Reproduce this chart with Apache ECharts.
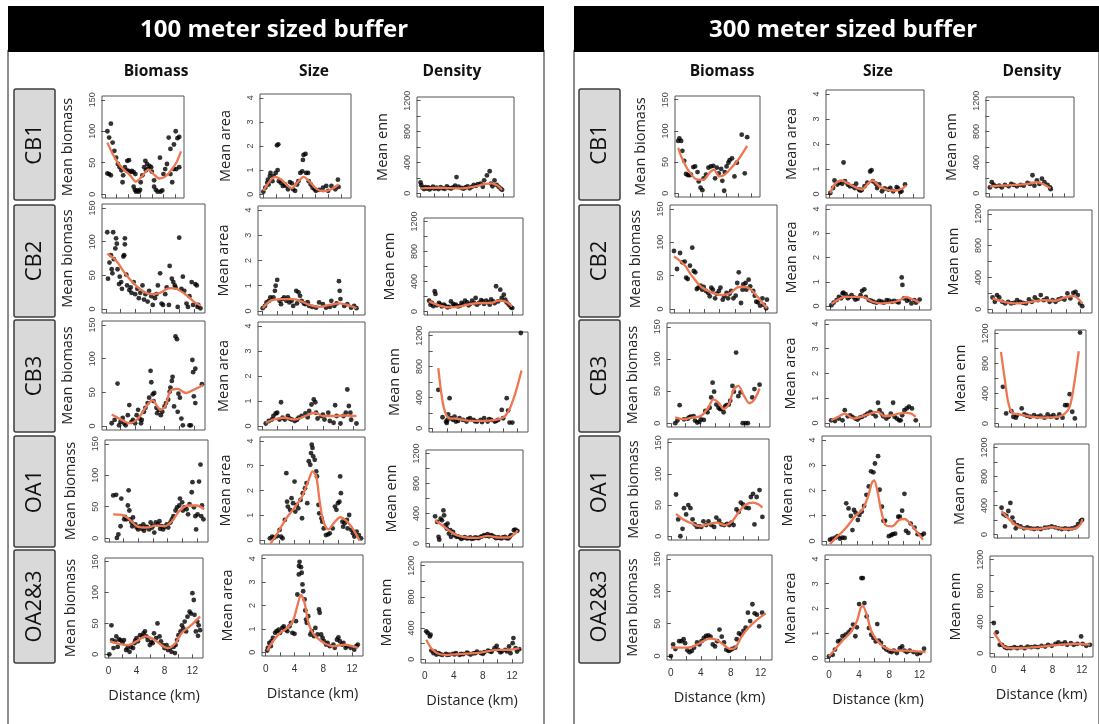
<!DOCTYPE html>
<html>
<head>
<meta charset="utf-8">
<script src="https://cdn.jsdelivr.net/npm/echarts@6/dist/echarts.min.js"></script>
<style>
html,body{margin:0;padding:0;background:#fff}
#chart{width:1099px;height:724px}
</style>
</head>
<body>
<div id="chart"></div>
<script>
// ---- labels & ticks ----
const sites = ['CB1', 'CB2', 'CB3', 'OA1', 'OA2&3'];
const measures = ['Biomass', 'Size', 'Density'];
const yTitles = ['Mean biomass', 'Mean area', 'Mean enn'];
const bufferTitles = ['100 meter sized buffer', '300 meter sized buffer'];
const distTicks = [0, 2, 4, 6, 8, 10, 12];
const distLabels = [0, 4, 8, 12];
const bioTicks = [0, 50, 100, 150];
const areaTicks = [0, 1, 2, 3, 4];
const ennTicks = [0, 200, 400, 600, 800, 1000, 1200];
const ennLabels = [0, 400, 800, 1200];

// ---- 100 m buffer: points [distance km, value] and smoothed fits ----
const bio100CB1 = [[0.4,100],[1.0,112],[0.7,90],[1.3,82],[0.7,32],[0.4,33],[1.0,30],[1.6,69],[1.9,58],[2.2,48],[2.5,43],[2.8,38],[3.1,30],[3.0,19],[3.4,43],[3.7,38],[4.0,37],[4.3,35],[4.6,37],[3.8,53],[4.1,54],[4.9,35],[5.2,32],[4.9,12],[5.1,7],[5.5,6],[5.8,4],[6.0,7],[5.3,4],[6.1,19],[6.4,30],[6.7,43],[6.9,53],[7.2,48],[7.0,38],[7.3,40],[7.6,45],[7.9,43],[8.0,36],[8.4,22],[8.4,12],[8.7,7],[9.0,4],[9.5,4],[9.8,6],[9.4,58],[10.0,32],[10.3,40],[10.6,48],[10.9,90],[11.2,72],[11.2,32],[11.5,19],[11.8,79],[12.1,100],[12.4,89],[12.7,91],[11.8,40],[12.2,40],[12.7,43]];
const bio100CB1Fit = [[0.4,82],[1.2,66],[2.2,50],[3.2,39],[4.3,30],[5.3,20],[6.3,28],[7.4,39],[8.3,32],[9.3,25],[10.3,28],[11.3,38],[12.2,50],[13.0,68]];
const area100CB1 = [[0.0,0.1],[0.3,0.27],[0.6,0.47],[0.7,0.6],[1.0,0.75],[0.8,0.4],[1.1,0.88],[1.4,0.54],[1.6,0.75],[1.9,0.88],[2.2,1.0],[2.1,2.03],[2.3,2.07],[2.4,0.54],[2.7,0.47],[3.0,0.34],[3.3,0.4],[3.5,0.34],[3.8,0.2],[4.1,0.5],[4.4,0.45],[4.6,0.2],[4.9,0.14],[5.2,0.4],[5.4,0.54],[5.7,0.88],[6.0,0.95],[6.1,1.42],[6.2,1.63],[6.5,1.67],[6.6,0.88],[6.9,0.88],[7.0,0.54],[7.3,0.4],[7.6,0.27],[7.9,0.2],[8.1,0.14],[8.6,0.18],[9.2,0.27],[9.7,0.34],[10.0,0.14],[10.5,0.34],[11.1,0.2],[11.5,0.6],[11.6,0.3]];
const area100CB1Fit = [[0,0.14],[1.0,0.55],[1.8,0.72],[2.8,0.6],[3.6,0.38],[4.4,0.25],[5.3,0.5],[6.2,0.72],[7.2,0.5],[8.2,0.22],[9.2,0.12],[10.3,0.18],[11.6,0.4]];
const enn100CB1 = [[0.0,140],[0.1,105],[0.3,70],[0.5,55],[0.7,80],[0.9,62],[1.1,75],[1.3,50],[1.5,68],[1.8,85],[2.0,60],[2.3,72],[2.6,55],[2.9,80],[3.2,65],[3.5,58],[3.8,90],[4.1,70],[4.4,62],[4.7,78],[5.0,100],[5.2,210],[5.5,85],[5.9,70],[6.2,60],[6.5,75],[6.8,90],[7.1,65],[7.4,82],[7.7,110],[8.0,95],[8.3,120],[8.7,126],[9.0,85],[9.2,168],[9.6,232],[10.0,286],[10.2,126],[10.4,90],[10.7,168],[11.0,110],[11.3,84],[11.6,60],[11.8,45]];
const enn100CB1Fit = [[0,63],[1.3,68],[2.6,72],[3.9,68],[5.2,65],[6.4,68],[7.4,80],[8.4,100],[9.4,122],[10.2,128],[10.9,110],[11.4,80],[11.8,42]];

const bio100CB2 = [[0.2,114],[1.0,114],[0.3,45],[0.5,69],[0.7,80],[0.8,59],[0.9,53],[1.1,74],[1.3,90],[1.4,105],[1.5,97],[1.6,59],[1.8,37],[1.9,48],[2.1,40],[2.2,30],[2.5,80],[2.6,96],[2.6,105],[2.4,78],[2.8,51],[2.9,35],[3.2,28],[3.4,32],[3.5,24],[3.8,40],[4.0,22],[4.3,30],[4.5,16],[4.7,24],[5.0,35],[5.2,14],[5.4,22],[5.7,11],[5.9,27],[6.2,19],[6.4,6],[6.7,16],[6.9,22],[7.1,35],[7.4,53],[7.6,8],[7.8,6],[8.1,22],[8.3,32],[8.6,6],[8.7,64],[9.0,45],[9.2,40],[9.4,35],[9.5,32],[9.8,3],[10.0,106],[10.3,30],[10.5,48],[10.7,27],[11.0,8],[11.2,3],[11.4,19],[11.7,40],[11.9,6],[12.2,37],[12.4,35],[12.5,3],[12.6,6],[12.9,1]];
const bio100CB2Fit = [[0.2,82],[1.4,72],[2.6,53],[3.8,38],[5.0,27],[6.2,22],[7.4,24],[8.7,31],[9.6,30],[10.8,22],[12.0,11],[12.9,5]];
const area100CB2 = [[0.1,0.11],[0.4,0.2],[0.6,0.34],[0.9,0.4],[1.1,0.54],[1.5,0.54],[1.8,1.0],[2.0,1.23],[1.7,0.8],[2.3,0.4],[2.5,0.27],[2.7,0.47],[2.9,0.54],[3.2,0.4],[3.4,0.54],[3.6,0.34],[3.9,0.4],[4.1,0.2],[4.5,0.8],[4.8,0.74],[5.0,0.6],[4.6,0.3],[5.2,0.4],[5.7,0.27],[6.2,0.2],[6.6,0.16],[7.1,0.13],[7.5,0.34],[8.0,0.27],[8.4,0.13],[8.9,0.16],[9.1,0.4],[10.1,1.18],[10.2,0.8],[10.3,0.47],[10.8,0.2],[11.2,0.27],[11.7,0.13],[12.1,0.2],[12.4,0.11],[9.5,0.2],[9.8,0.3],[5.5,0.3],[6.0,0.35]];
const area100CB2Fit = [[0.1,0.11],[1.1,0.4],[2.5,0.47],[3.9,0.47],[4.8,0.43],[6.2,0.24],[7.5,0.16],[8.9,0.24],[10.1,0.3],[11.2,0.24],[12.4,0.11]];
const enn100CB2 = [[0.2,143],[0.6,112],[1.0,269],[1.1,233],[1.3,81],[1.6,112],[2.0,67],[2.3,90],[2.8,54],[3.3,134],[3.8,81],[4.3,67],[4.8,112],[5.3,143],[5.8,81],[6.3,143],[6.8,179],[7.3,112],[7.8,134],[8.3,143],[8.8,90],[9.3,134],[9.7,336],[10.0,134],[10.3,291],[10.5,179],[10.8,224],[11.0,157],[11.2,120],[11.5,90],[11.8,54],[12.0,45],[0.4,90],[0.8,70],[1.8,95],[2.5,75],[3.0,60],[3.6,100],[4.0,90],[4.6,75],[5.0,95],[5.6,120],[6.0,100],[6.6,110],[7.0,90],[7.6,150],[8.0,100],[8.6,120],[9.0,160],[9.5,110]];
const enn100CB2Fit = [[0.2,134],[1.6,81],[3.1,54],[4.6,67],[6.1,99],[7.6,112],[9.0,112],[10.0,143],[11.0,134],[12.0,67]];

const bio100CB3 = [[0.8,4],[1.2,9],[1.6,63],[1.8,1],[2.0,6],[2.3,12],[2.5,4],[2.7,1],[3.0,16],[3.2,31],[3.5,6],[3.7,9],[4.0,4],[4.2,16],[4.4,24],[4.6,11],[4.8,4],[4.9,9],[5.2,21],[5.4,27],[5.7,34],[5.9,42],[6.1,82],[6.2,65],[6.4,47],[6.6,49],[6.5,37],[6.9,27],[7.0,19],[7.2,24],[7.5,16],[7.7,21],[8.0,29],[8.2,34],[8.5,39],[8.7,51],[8.8,57],[9.0,67],[9.1,73],[9.3,29],[9.5,133],[9.7,129],[9.8,21],[9.9,48],[10.1,42],[10.3,11],[10.5,1],[11.4,1],[11.6,1],[11.8,98],[11.9,80],[12.2,85],[12.0,44],[12.2,34],[13.1,62]];
const bio100CB3Fit = [[0.8,17],[2.0,10],[3.2,4],[4.4,11],[5.7,32],[6.4,38],[7.4,24],[8.1,29],[8.8,52],[9.8,55],[10.9,49],[12.2,55],[13.3,61]];
const area100CB3 = [[0.5,0.1],[0.9,0.2],[1.3,0.26],[1.5,0.4],[1.8,0.5],[2.0,0.53],[2.5,0.95],[2.3,0.26],[2.7,0.33],[3.0,0.26],[3.4,0.4],[3.9,0.26],[4.3,0.2],[4.8,0.33],[5.2,0.4],[5.7,0.5],[6.2,0.6],[6.5,0.86],[6.8,1.06],[7.0,0.95],[7.1,0.53],[7.3,0.3],[7.8,0.4],[8.2,0.26],[8.7,0.53],[8.9,0.2],[9.4,0.13],[9.6,0.83],[9.8,0.4],[10.3,0.1],[10.7,0.4],[11.0,0.53],[11.2,1.46],[11.4,0.8],[11.6,0.53],[11.7,0.25],[12.4,0.1],[3.6,0.3],[4.6,0.25],[6.0,0.35],[8.0,0.45]];
const area100CB3Fit = [[0.5,0.13],[1.5,0.26],[2.9,0.33],[4.3,0.26],[5.7,0.4],[6.9,0.53],[8.0,0.4],[9.4,0.4],[10.8,0.42],[12.4,0.4]];
const enn100CB3 = [[0.8,498],[1.4,143],[1.9,87],[2.1,108],[2.2,180],[2.4,390],[2.6,130],[2.9,108],[3.1,152],[3.3,87],[3.8,130],[4.3,108],[4.8,87],[5.3,130],[5.8,108],[6.3,87],[6.8,108],[7.3,130],[7.8,87],[8.3,108],[8.8,87],[9.3,108],[9.8,238],[10.0,130],[10.5,390],[10.7,230],[10.9,74],[11.3,74],[12.5,1235],[2.0,70],[3.6,95],[5.0,120],[6.0,90],[7.0,80],[8.0,120],[9.0,95]];
const enn100CB3Fit = [[0.8,780],[1.2,470],[1.6,260],[2.0,160],[2.5,125],[3.0,128],[4.0,115],[5.0,100],[6.0,95],[7.0,95],[8.0,100],[9.0,110],[10.0,140],[10.5,185],[11.0,270],[11.5,390],[12.0,540],[12.6,750]];

const bio100OA1 = [[0.6,68],[1.0,69],[1.1,0.5],[1.3,6],[1.6,19],[1.7,63],[2.1,30],[2.2,34],[2.4,30],[2.7,76],[2.6,52],[2.8,44],[2.9,30],[3.1,25],[3.2,19],[3.3,33],[3.6,22],[3.8,17],[4.0,14],[4.3,19],[4.5,15],[4.7,22],[5.0,17],[5.2,18],[5.5,14],[5.7,25],[5.9,17],[6.2,9],[6.4,25],[6.7,22],[6.9,27],[7.2,19],[7.4,14],[7.6,18],[7.9,22],[8.1,17],[8.4,25],[8.6,30],[8.8,35],[9.1,44],[9.3,49],[9.6,52],[9.7,63],[10.0,57],[10.1,44],[10.3,49],[10.6,46],[10.8,38],[11.0,54],[11.3,73],[11.4,89],[11.6,49],[11.8,35],[11.9,14],[12.1,38],[12.3,90],[12.5,117],[12.6,35],[12.7,52],[12.9,30],[4.8,12],[6.0,20],[7.0,15]];
const bio100OA1Fit = [[0.6,38],[1.8,37],[2.8,30],[4.0,18],[5.2,17],[6.4,20],[7.6,19],[8.6,27],[9.6,43],[10.8,52],[12.0,52],[13.0,46]];
const area100OA1 = [[0.8,0.07],[1.1,0.14],[1.4,0.1],[1.8,0.16],[2.3,0.14],[2.5,0.07],[2.1,0.41],[2.8,0.81],[3.0,2.7],[3.1,1.55],[3.2,1.35],[3.5,1.22],[3.7,1.69],[3.9,1.49],[4.1,2.36],[4.2,1.15],[4.4,1.42],[4.6,1.28],[4.9,1.62],[5.1,0.88],[5.2,1.89],[5.5,2.09],[5.7,2.3],[5.8,1.49],[6.0,3.18],[6.2,3.04],[6.3,3.51],[6.4,3.85],[6.5,3.72],[6.6,3.38],[6.8,3.24],[7.0,2.77],[7.1,2.57],[7.3,1.42],[7.4,1.08],[7.7,0.88],[7.8,0.74],[8.0,0.47],[8.3,0.2],[8.6,0.23],[8.8,0.27],[9.2,0.47],[9.5,1.35],[9.7,1.22],[9.9,1.49],[10.1,1.55],[10.2,2.57],[10.3,1.89],[10.5,0.74],[10.6,0.54],[10.8,0.68],[11.1,0.81],[11.2,0.47],[11.4,1.01],[11.7,0.41],[11.9,0.27],[12.1,0.14],[12.4,0.34],[12.7,0.2],[13.0,0.07]];
const area100OA1Fit = [[0.9,-0.14],[1.8,0.27],[3.0,0.88],[4.2,1.35],[5.1,1.76],[6.0,2.43],[6.5,2.77],[7.0,2.57],[7.4,1.69],[7.9,0.81],[8.6,0.43],[9.5,0.74],[10.2,0.92],[10.9,0.81],[11.7,0.54],[12.4,0.2],[12.8,-0.03]];
const enn100OA1 = [[0.8,362],[1.1,287],[1.3,88],[1.4,50],[1.6,331],[1.8,309],[2.0,441],[2.1,375],[2.3,243],[2.5,199],[2.6,265],[2.8,132],[3.0,176],[3.1,88],[3.4,154],[3.6,110],[3.9,88],[4.4,79],[4.9,75],[5.4,66],[5.9,79],[6.4,66],[6.9,75],[7.4,88],[7.9,110],[8.4,123],[8.9,110],[9.4,88],[9.9,79],[10.4,66],[10.9,88],[11.4,66],[11.8,110],[12.2,176],[12.4,185],[12.7,168],[4.1,95],[4.6,60],[5.1,85],[5.6,70],[6.1,60],[6.6,80],[7.1,70],[7.6,95],[8.1,100],[8.6,95],[9.1,100],[9.6,70],[10.1,75],[10.6,80],[11.1,70],[11.6,90]];
const enn100OA1Fit = [[0.8,309],[1.8,243],[2.9,168],[3.9,110],[5.4,79],[6.9,75],[8.4,101],[9.9,79],[11.4,79],[12.4,132],[12.7,176]];

const bio100OA23 = [[0.1,0],[0.4,47],[0.5,23],[0.7,10],[0.9,21],[1.1,29],[1.3,12],[1.5,24],[1.7,23],[2.0,19],[2.2,23],[2.5,7],[2.7,10],[3.0,4],[3.2,12],[3.5,10],[3.7,18],[4.0,26],[4.2,21],[4.5,31],[4.8,29],[5.0,34],[5.2,37],[5.4,29],[5.6,23],[5.9,15],[6.3,18],[6.5,34],[6.8,26],[7.0,50],[7.3,29],[7.5,21],[7.8,15],[8.0,10],[8.3,15],[8.5,7],[8.8,10],[9.0,4],[9.3,12],[9.5,2],[9.8,23],[10.0,31],[10.3,37],[10.5,47],[10.7,42],[10.9,53],[11.1,37],[11.3,61],[11.6,69],[11.8,66],[12.0,99],[12.2,88],[12.3,64],[12.5,37],[12.7,53],[12.9,47],[13.1,39],[12.8,30],[3.8,22],[6.1,20],[9.6,15]];
const bio100OA23Fit = [[0.2,21],[1.5,17],[2.8,15],[4.0,21],[5.3,29],[6.5,24],[7.8,13],[8.5,10],[9.5,17],[10.5,35],[11.8,47],[13.1,61]];
const area100OA23 = [[0.2,0.07],[0.3,0.19],[0.5,0.4],[0.7,0.26],[0.8,0.47],[1.0,0.61],[1.3,0.83],[1.5,0.9],[1.8,0.97],[2.0,0.83],[2.3,1.04],[2.5,1.11],[2.8,0.97],[3.0,0.9],[3.3,1.11],[3.5,1.26],[3.7,0.83],[4.0,0.79],[4.2,1.33],[4.4,2.47],[4.6,3.33],[4.62,3.69],[4.7,3.87],[4.9,3.64],[5.0,3.4],[5.1,2.9],[5.2,2.61],[5.4,2.26],[5.5,1.79],[5.6,1.4],[5.7,1.26],[5.9,1.54],[6.2,0.76],[6.4,0.9],[6.7,0.69],[6.9,1.04],[7.2,0.76],[7.4,1.83],[7.5,1.69],[7.7,0.76],[7.9,0.61],[8.1,0.47],[8.4,0.33],[8.6,0.4],[8.9,0.26],[9.4,0.33],[9.6,0.19],[9.9,0.54],[10.1,0.64],[10.3,0.47],[10.6,0.33],[10.8,0.4],[11.1,0.19],[11.3,0.26],[11.8,0.19],[12.3,0.11],[12.6,0.26],[12.8,0.33]];
const area100OA23Fit = [[0.2,0.07],[1.0,0.47],[2.0,0.83],[3.0,1.04],[3.8,1.35],[4.4,2.0],[4.9,2.45],[5.4,2.1],[5.9,1.3],[6.4,0.9],[6.9,0.69],[8.1,0.4],[9.6,0.26],[10.8,0.33],[12.8,0.19]];
const enn100OA23 = [[0.2,358],[0.4,337],[0.7,293],[0.8,315],[0.9,112],[1.2,78],[1.4,99],[1.9,78],[2.4,56],[2.9,69],[3.4,60],[3.9,70],[4.3,78],[4.8,55],[5.3,65],[5.8,86],[6.3,60],[6.7,75],[7.2,99],[7.7,80],[8.2,90],[8.7,112],[9.2,95],[9.6,142],[9.9,173],[10.1,121],[10.6,99],[11.1,121],[11.6,164],[11.8,78],[12.1,207],[12.2,272],[12.5,142],[12.7,99],[13.0,129],[1.6,60],[2.1,65],[3.1,55],[4.1,62],[5.0,70],[6.0,75],[7.0,80],[8.0,70],[9.0,100],[10.4,90],[11.3,100]];
const enn100OA23Fit = [[0.2,250],[0.9,142],[1.7,78],[2.9,56],[5.3,69],[7.7,86],[10.1,121],[11.6,121],[13.0,142]];

// ---- 300 m buffer ----
const bio300CB1 = [[0.0,84],[0.2,88],[0.5,84],[0.7,68],[1.0,52],[1.3,31],[1.6,29],[1.9,29],[2.1,30],[2.5,42],[2.8,43],[3.2,34],[3.4,19],[3.7,9],[4.0,5],[4.2,24],[4.6,30],[5.0,41],[5.4,43],[5.8,44],[6.1,24],[6.4,41],[6.7,32],[7.1,39],[7.3,20],[7.6,4],[7.7,34],[8.0,43],[8.3,49],[8.5,53],[8.9,56],[9.3,27],[9.7,49],[10.5,94],[11.0,32],[11.4,90]];
const bio300CB1Fit = [[0,73],[0.6,57],[1.8,35],[3.2,22],[4.2,22],[5.2,33],[5.9,38],[6.8,27],[7.7,30],[8.8,41],[10.0,55],[11.4,76]];
const area300CB1 = [[0.1,0.04],[0.5,0.24],[0.7,0.54],[1.1,0.38],[1.4,0.45],[1.8,0.41],[2.0,1.26],[2.2,0.51],[2.6,0.38],[2.9,0.31],[3.3,0.31],[3.6,0.24],[3.8,0.41],[4.2,0.18],[4.4,0.14],[4.6,0.16],[5.0,0.31],[5.4,0.45],[5.8,0.9],[6.0,0.95],[6.2,0.51],[6.6,0.41],[6.8,0.24],[7.1,0.38],[7.5,0.11],[7.9,0.22],[8.4,0.18],[8.7,0.24],[9.1,0.11],[9.6,0.27],[9.8,0.22],[10.1,0.08],[10.3,0.11],[10.8,0.38]];
const area300CB1Fit = [[0.1,0.04],[0.7,0.38],[1.7,0.54],[2.7,0.41],[3.7,0.27],[4.6,0.18],[5.6,0.45],[6.2,0.54],[7.1,0.31],[8.1,0.18],[9.3,0.14],[10.3,0.2],[11.0,0.35]];
const enn300CB1 = [[0.1,76],[0.4,144],[0.7,108],[1.1,90],[1.6,99],[2.0,76],[2.5,108],[3.1,90],[3.5,121],[3.9,108],[4.4,90],[5.0,108],[5.5,99],[6.1,135],[6.5,121],[6.9,234],[7.2,99],[7.6,166],[8.0,121],[8.4,189],[8.8,144],[9.3,108],[9.7,76],[9.8,54]];
const enn300CB1Fit = [[0.1,90],[1.7,99],[3.9,108],[6.1,121],[7.5,144],[8.6,121],[9.8,63]];

const bio300CB2 = [[0,87],[0.4,60],[0.8,84],[1.1,70],[1.4,71],[1.6,47],[1.8,45],[2.1,65],[2.4,92],[2.6,57],[2.8,55],[3.0,30],[3.2,32],[3.5,35],[3.7,29],[3.9,33],[4.2,27],[4.5,24],[4.7,19],[4.9,32],[5.1,29],[5.4,16],[5.6,23],[5.9,27],[6.1,32],[6.4,14],[6.6,19],[6.9,24],[7.1,16],[7.3,23],[7.5,27],[7.8,16],[8.1,20],[8.3,39],[8.5,55],[8.8,9],[9.0,29],[9.1,37],[9.4,39],[9.5,29],[9.8,44],[10.0,34],[10.4,27],[10.6,20],[10.8,11],[11.0,10],[11.3,5],[11.6,16],[11.8,6],[12.1,1],[12.2,14]];
const bio300CB2Fit = [[0,79],[1.3,67],[2.4,49],[3.6,33],[4.9,25],[6.3,21],[7.4,24],[8.5,33],[9.4,33],[10.3,27],[11.2,15],[12.2,1]];
const area300CB2 = [[0.2,0.04],[0.5,0.14],[0.9,0.25],[1.2,0.38],[1.5,0.32],[1.7,0.52],[1.8,0.55],[2.1,0.49],[2.4,0.32],[2.6,0.38],[2.9,0.45],[3.2,0.36],[3.4,0.27],[3.7,0.3],[4.1,0.45],[4.3,0.63],[4.6,0.69],[4.8,0.38],[5.2,0.25],[5.5,0.22],[5.8,0.18],[6.2,0.14],[6.6,0.21],[6.9,0.18],[7.2,0.14],[7.6,0.25],[7.9,0.22],[8.3,0.18],[8.6,0.21],[9.0,0.18],[9.2,0.15],[9.6,1.18],[9.7,0.87],[9.9,0.32],[10.3,0.22],[10.6,0.27],[10.9,0.11],[11.3,0.25],[11.5,0.14],[12.0,0.27]];
const area300CB2Fit = [[0.2,0.08],[1.1,0.27],[2.0,0.38],[3.4,0.38],[4.6,0.36],[5.7,0.18],[6.9,0.11],[8.1,0.14],[9.2,0.22],[10.2,0.38],[11.1,0.27],[12.0,0.14]];
const enn300CB2 = [[0.1,147],[0.4,93],[0.7,177],[1.0,147],[1.4,93],[1.8,72],[2.2,93],[2.6,72],[3.0,80],[3.4,114],[3.8,93],[4.2,80],[4.6,72],[5.0,122],[5.4,93],[5.8,147],[6.2,114],[6.6,177],[7.0,114],[7.4,135],[7.8,93],[8.2,114],[8.6,93],[9.0,122],[9.4,135],[9.8,122],[10.2,198],[10.6,135],[11.0,206],[11.3,219],[11.6,177],[11.9,72],[12.2,38]];
const enn300CB2Fit = [[0.1,135],[1.6,93],[3.4,72],[5.3,93],[7.1,114],[8.5,105],[9.9,150],[11.1,165],[12.2,72]];

const bio300CB3 = [[0.6,0],[0.9,4],[1.2,28],[1.8,6],[2.3,7],[2.5,9],[2.7,10],[3.1,11],[3.3,4],[3.6,1],[3.9,2],[4.1,6],[4.5,5],[4.7,19],[5.0,17],[5.3,24],[5.5,40],[5.7,63],[5.9,49],[6.2,29],[6.5,24],[6.7,22],[6.9,22],[7.2,17],[7.4,26],[7.6,28],[7.9,29],[8.1,35],[8.4,58],[8.6,49],[8.9,110],[9.2,42],[9.5,48],[9.8,0],[10.2,0],[10.5,0],[11.1,40],[11.4,53],[12.1,60]];
const bio300CB3Fit = [[0.6,9],[1.8,6],[3.0,9],[4.1,11],[5.1,24],[5.8,37],[6.5,32],[7.2,22],[7.9,29],[8.6,53],[9.2,58],[10.0,42],[10.7,31],[11.4,37],[12.1,54]];
const area300CB3 = [[0.3,0.11],[0.8,0.08],[1.3,0.18],[1.8,0.11],[2.1,0.52],[2.5,0.27],[2.8,0.31],[3.1,0.25],[3.5,0.18],[3.8,0.14],[4.1,0.22],[4.4,0.25],[4.8,0.31],[5.1,0.38],[5.5,0.45],[5.8,0.38],[6.2,0.27],[6.5,0.82],[6.7,0.52],[7.0,0.38],[7.2,0.27],[7.6,0.18],[7.9,0.25],[8.2,0.38],[8.5,0.82],[8.7,0.25],[9.0,0.18],[9.3,0.11],[9.5,0.11],[9.7,0.31],[10.0,0.52],[10.3,0.59],[10.6,0.66],[11.0,0.59],[11.5,0.11]];
const area300CB3Fit = [[0.3,0.11],[1.2,0.25],[2.1,0.38],[3.3,0.18],[4.4,0.27],[5.5,0.38],[6.5,0.45],[7.4,0.27],[8.3,0.31],[9.3,0.38],[10.2,0.41],[10.9,0.38],[11.5,0.25]];
const enn300CB3 = [[0.7,489],[1.2,133],[2.0,164],[2.3,89],[2.7,76],[2.9,111],[3.6,200],[4.0,120],[4.4,102],[4.9,89],[5.5,111],[6.0,89],[6.5,102],[7.1,76],[7.6,120],[8.1,89],[8.5,111],[9.0,76],[9.4,120],[9.9,76],[10.3,244],[10.6,244],[11.0,391],[11.4,156],[11.8,67],[12.6,1213]];
const enn300CB3Fit = [[0.4,956],[0.9,644],[1.5,289],[2.1,147],[3.2,120],[5.0,89],[7.2,76],[9.3,89],[10.3,133],[11.0,222],[11.5,422],[11.9,644],[12.4,964]];

const bio300OA1 = [[0.6,67],[0.9,27],[1.2,0],[1.5,12],[1.7,45],[2.0,35],[2.3,50],[2.6,45],[2.9,27],[3.2,19],[3.5,15],[3.8,16],[4.1,15],[4.4,24],[4.8,18],[5.1,24],[5.5,18],[5.9,15],[6.2,30],[6.6,25],[6.9,19],[7.3,18],[7.7,20],[8.0,18],[8.3,22],[8.6,18],[9.0,43],[9.3,39],[9.6,54],[9.9,51],[10.3,46],[10.7,45],[11.0,63],[11.3,68],[11.5,19],[11.8,63],[12.2,74],[12.6,31]];
const bio300OA1Fit = [[0.6,36],[1.6,27],[2.9,20],[3.9,16],[5.0,19],[6.2,22],[7.4,18],[8.4,24],[9.4,40],[10.3,51],[11.3,54],[12.1,51],[12.6,46]];
const area300OA1 = [[0.5,0.05],[0.8,0.09],[1.2,0.13],[1.5,0.19],[1.8,0.09],[2.1,0.13],[2.4,0.12],[2.6,1.49],[2.9,1.29],[3.2,0.99],[3.4,0.43],[3.6,1.23],[3.8,1.12],[4.1,0.83],[4.3,1.03],[4.6,1.16],[4.9,1.39],[5.2,1.83],[5.5,2.16],[5.8,2.76],[6.1,2.72],[6.3,3.07],[6.7,3.36],[6.9,2.03],[7.2,1.36],[7.4,0.8],[7.6,0.8],[8.1,0.19],[8.4,0.23],[8.6,0.27],[8.9,0.29],[9.3,0.96],[9.5,0.96],[9.8,1.2],[10.1,1.87],[10.3,0.4],[10.6,0.32],[10.9,0.69],[11.4,0.53],[11.8,0.27],[12.3,0.23],[12.6,0.29]];
const area300OA1Fit = [[0.5,-0.13],[1.4,0.16],[2.5,0.49],[3.8,1.0],[4.7,1.25],[5.4,1.75],[5.9,2.3],[6.2,2.4],[6.6,2.0],[7.1,1.2],[7.7,0.62],[8.5,0.58],[9.4,0.83],[10.1,0.87],[10.9,0.67],[11.8,0.32],[12.5,0.05]];
const enn300OA1 = [[0.6,369],[0.9,279],[1.1,112],[1.3,256],[1.6,324],[1.9,436],[2.2,234],[2.4,166],[2.7,85],[2.9,130],[3.4,112],[3.9,85],[4.4,99],[4.9,85],[5.4,76],[5.9,85],[6.4,76],[7.0,94],[7.5,99],[8.0,112],[8.5,99],[9.0,85],[9.5,76],[10.0,85],[10.5,76],[11.0,85],[11.5,99],[11.9,144],[12.3,189],[12.5,202]];
const enn300OA1Fit = [[0.6,324],[1.7,211],[2.7,130],[3.9,85],[5.9,76],[8.0,103],[10.0,76],[11.5,85],[12.3,144],[12.5,211]];

const bio300OA23 = [[0,0],[0.3,18],[0.6,11],[1.1,23],[1.4,23],[1.7,26],[1.9,20],[2.2,9],[2.5,6],[2.8,8],[3.1,13],[3.5,21],[3.8,18],[4.1,23],[4.4,28],[4.7,31],[5.0,32],[5.3,30],[5.6,18],[5.9,15],[6.2,23],[6.5,41],[6.8,30],[7.1,21],[7.4,10],[7.7,8],[7.9,9],[8.2,11],[8.6,13],[8.8,26],[9.1,35],[9.4,33],[9.7,39],[10.0,44],[10.3,67],[10.6,54],[10.9,80],[11.2,66],[11.5,64],[11.8,46],[12.2,67]];
const bio300OA23Fit = [[0,13],[1.3,13],[2.7,14],[4.0,21],[5.2,27],[6.1,25],[7.0,18],[7.9,11],[8.6,13],[9.5,31],[10.4,44],[11.5,56],[12.7,66]];
const area300OA23 = [[0,0.07],[0.5,0.13],[0.8,0.34],[1.2,0.67],[1.5,0.7],[1.8,0.88],[2.2,0.94],[2.6,1.04],[2.9,1.14],[3.2,1.35],[3.5,0.88],[3.7,1.24],[4.0,2.18],[4.3,3.23],[4.5,3.23],[4.7,2.22],[5.0,1.68],[5.3,1.21],[5.6,0.94],[5.9,0.81],[6.2,0.67],[6.4,1.37],[6.6,0.7],[6.9,0.61],[7.3,0.43],[7.6,0.34],[8.0,0.27],[8.3,0.24],[8.6,0.3],[9.0,0.2],[9.4,0.4],[9.7,0.47],[10.0,0.3],[10.3,0.24],[10.7,0.3],[11.2,0.24],[11.7,0.16],[12.1,0.2],[12.6,0.38]];
const area300OA23Fit = [[0,0.07],[0.8,0.34],[1.7,0.67],[2.9,1.05],[3.7,1.48],[4.2,2.02],[4.5,2.09],[5.0,1.75],[5.6,1.1],[6.3,0.74],[7.4,0.43],[8.8,0.3],[10.3,0.3],[11.7,0.27],[12.8,0.24]];
const enn300OA23 = [[0,388],[0.4,268],[0.8,108],[1.1,108],[1.5,78],[1.8,65],[2.3,65],[2.8,78],[3.2,65],[3.7,78],[4.2,65],[4.6,86],[5.1,78],[5.6,86],[6.0,78],[6.5,95],[7.0,86],[7.4,108],[7.9,95],[8.4,121],[8.8,138],[9.3,121],[9.7,138],[10.0,108],[10.5,129],[10.9,108],[11.4,121],[11.9,216],[12.1,121],[12.6,95],[13.1,108]];
const enn300OA23Fit = [[0,268],[0.65,173],[1.35,86],[2.3,65],[4.2,69],[6.5,86],[8.8,108],[11.1,121],[13.1,112]];

// ---- plot boxes [x1, y1, x2, y2] per buffer, site row, measure column ----
const boxes100 = [
  [[102,96,184,198],[260,94,351,198],[417,97,514,197]],
  [[102,204,205,313],[258,206,365,315],[424,218,523,315]],
  [[102,321,205,430],[258,322,365,430],[429,332,528,432]],
  [[105,440,208,542],[260,437,365,544],[426,450,523,547]],
  [[105,558,203,658],[262,555,363,656],[421,562,523,663]]
];
const boxes300 = [
  [[675,96,760,197],[826,90,924,198],[986,97,1074,197]],
  [[670,205,777,313],[826,205,931,310],[988,210,1092,313]],
  [[667,323,770,427],[825,320,931,427],[995,330,1086,427]],
  [[668,439,769,540],[822,436,931,545],[994,444,1089,538]],
  [[667,555,772,660],[825,555,931,662],[990,556,1093,657]]
];

const points = [
  [[bio100CB1, area100CB1, enn100CB1],[bio100CB2, area100CB2, enn100CB2],[bio100CB3, area100CB3, enn100CB3],[bio100OA1, area100OA1, enn100OA1],[bio100OA23, area100OA23, enn100OA23]],
  [[bio300CB1, area300CB1, enn300CB1],[bio300CB2, area300CB2, enn300CB2],[bio300CB3, area300CB3, enn300CB3],[bio300OA1, area300OA1, enn300OA1],[bio300OA23, area300OA23, enn300OA23]]
];
const fits = [
  [[bio100CB1Fit, area100CB1Fit, enn100CB1Fit],[bio100CB2Fit, area100CB2Fit, enn100CB2Fit],[bio100CB3Fit, area100CB3Fit, enn100CB3Fit],[bio100OA1Fit, area100OA1Fit, enn100OA1Fit],[bio100OA23Fit, area100OA23Fit, enn100OA23Fit]],
  [[bio300CB1Fit, area300CB1Fit, enn300CB1Fit],[bio300CB2Fit, area300CB2Fit, enn300CB2Fit],[bio300CB3Fit, area300CB3Fit, enn300CB3Fit],[bio300OA1Fit, area300OA1Fit, enn300OA1Fit],[bio300OA23Fit, area300OA23Fit, enn300OA23Fit]]
];
const boxes = [boxes100, boxes300];

// axis extents: data limits padded by 4 % on each side (R style)
const yRanges = [[-6, 156], [-0.16, 4.16], [-48, 1248]];
const yTickSets = [bioTicks, areaTicks, ennTicks];
const yLabelSets = [bioTicks, areaTicks, ennLabels];
const xRange = [-0.52, 13.52];

const FIT_COLOR = '#ee7650';
const plainNumber = v => String(v);

const grids = [], xAxes = [], yAxes = [], series = [], graphics = [];

for (let p = 0; p < 2; p++) {
  for (let r = 0; r < sites.length; r++) {
    for (let c = 0; c < measures.length; c++) {
      const [x1, y1, x2, y2] = boxes[p][r][c];
      const i = grids.length;
      const bottomRow = r === sites.length - 1;
      grids.push({
        left: x1, top: y1, width: x2 - x1, height: y2 - y1,
        show: true, borderColor: '#555', borderWidth: 1,
        backgroundColor: 'transparent', containLabel: false, outerBoundsMode: 'none'
      });
      xAxes.push({
        gridIndex: i, type: 'value', min: xRange[0], max: xRange[1],
        axisLine: { show: false }, splitLine: { show: false },
        axisTick: { show: true, customValues: distTicks, length: 4, lineStyle: { color: '#555', width: 1 } },
        axisLabel: { show: bottomRow, customValues: distLabels, formatter: plainNumber, margin: 8, fontSize: 10, color: '#333', fontFamily: 'Liberation Sans' },
        name: bottomRow ? 'Distance (km)' : '', nameLocation: 'middle', nameGap: 30,
        nameTextStyle: { fontSize: 14.5, color: '#222', fontFamily: 'Open Sans' }
      });
      yAxes.push({
        gridIndex: i, type: 'value', min: yRanges[c][0], max: yRanges[c][1],
        axisLine: { show: false }, splitLine: { show: false },
        axisTick: { show: true, customValues: yTickSets[c], length: 4, lineStyle: { color: '#555', width: 1 } },
        axisLabel: { show: true, customValues: yLabelSets[c], formatter: plainNumber, rotate: 90, margin: 5, fontSize: 9, color: '#444', fontFamily: 'Liberation Sans' },
        name: yTitles[c], nameLocation: 'middle', nameRotate: 90, nameGap: 27,
        nameTextStyle: { fontSize: 14.5, color: '#222', fontFamily: 'Open Sans' }
      });
      series.push({
        type: 'scatter', xAxisIndex: i, yAxisIndex: i, data: points[p][r][c],
        symbol: 'circle', symbolSize: 4.8, itemStyle: { color: '#000' }, silent: true, z: 2
      });
      series.push({
        type: 'line', xAxisIndex: i, yAxisIndex: i, data: fits[p][r][c],
        smooth: 0.3, showSymbol: false, clip: true, silent: true,
        lineStyle: { color: FIT_COLOR, width: 2.3 }, z: 3
      });
    }
  }
}

// ---- frames, title bars, column headers and site tabs ----
const panelX = [[8, 544], [574, 1099]];
const titleX = [274, 843];
const headerX = [[156, 314, 452], [722, 878, 1032]];
const tabX = [[14, 55], [579, 620]];
const tabY = [[89, 200], [205, 317], [320, 432], [436, 547], [550, 663]];

for (let p = 0; p < 2; p++) {
  const [px1, px2] = panelX[p];
  graphics.push({ type: 'line', shape: { x1: px1, y1: 50, x2: px1, y2: 724 }, style: { stroke: '#8c8c8c', lineWidth: 2 } });
  graphics.push({ type: 'line', shape: { x1: px2, y1: 50, x2: px2, y2: 724 }, style: { stroke: '#8c8c8c', lineWidth: 2 } });
  graphics.push({ type: 'rect', shape: { x: px1, y: 6, width: px2 - px1, height: 46 }, style: { fill: '#000' } });
  graphics.push({
    type: 'text', x: titleX[p], y: 30,
    style: { text: bufferTitles[p], fill: '#fff', font: 'bold 24px "Open Sans"', textAlign: 'center', textVerticalAlign: 'middle', verticalAlign: 'middle' }
  });
  for (let c = 0; c < measures.length; c++) {
    graphics.push({
      type: 'text', x: headerX[p][c], y: 72,
      style: { text: measures[c], fill: '#111', font: 'bold 15.5px "Open Sans"', textAlign: 'center', textVerticalAlign: 'middle', verticalAlign: 'middle' }
    });
  }
  for (let r = 0; r < sites.length; r++) {
    const [tx1, tx2] = tabX[p];
    const [ty1, ty2] = tabY[r];
    graphics.push({
      type: 'rect', shape: { x: tx1, y: ty1, width: tx2 - tx1, height: ty2 - ty1, r: 2 },
      style: { fill: '#d9d9d9', stroke: '#3c3c3c', lineWidth: 1.5 }
    });
    graphics.push({
      type: 'text', x: (tx1 + tx2) / 2, y: (ty1 + ty2) / 2, rotation: Math.PI / 2,
      style: { text: sites[r], fill: '#111', font: '22px "Open Sans"', textAlign: 'center', textVerticalAlign: 'middle', verticalAlign: 'middle' }
    });
  }
}

const chart = echarts.init(document.getElementById('chart'), null, { renderer: 'canvas' });
chart.setOption({
  animation: false,
  backgroundColor: '#fff',
  grid: grids,
  xAxis: xAxes,
  yAxis: yAxes,
  series: series,
  graphic: { elements: graphics }
});
</script>
</body>
</html>
